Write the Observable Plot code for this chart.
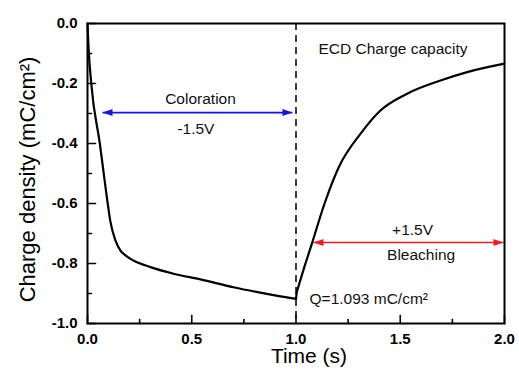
<!DOCTYPE html>
<html><head><meta charset="utf-8">
<script src="https://cdn.jsdelivr.net/npm/d3@7"></script>
<script src="https://cdn.jsdelivr.net/npm/@observablehq/plot@0.6"></script>
<style>body{margin:0;background:#fff;} #chart svg{font-family:'Liberation Sans', Arial, sans-serif;background:#fff;}</style>
</head><body><div id="chart"></div>
<script>
// Coloration phase (-1.5 V)
const colorTime   = [0, 0.005, 0.018, 0.059, 0.097, 0.109, 0.134, 0.158, 0.182, 0.22, 0.302, 0.413, 0.542, 0.70, 0.86, 1.0];
const colorCharge = [0, -0.08, -0.2, -0.4, -0.6, -0.657, -0.723, -0.757, -0.773, -0.79, -0.812, -0.834, -0.853, -0.879, -0.901, -0.918];
// Bleaching phase (+1.5 V)
const bleachTime   = [1.0, 1.004, 1.0086, 1.04, 1.077, 1.137, 1.205, 1.309, 1.405, 1.533, 1.693, 1.821, 2.0];
const bleachCharge = [-0.918, -0.895, -0.884, -0.812, -0.732, -0.60, -0.479, -0.368, -0.29, -0.234, -0.19, -0.162, -0.134];

const xTicks = [0, 0.5, 1.0, 1.5, 2.0];
const xMinor = [0.25, 0.75, 1.25, 1.75];
const yTicks = [0, -0.2, -0.4, -0.6, -0.8, -1.0];
const yMinor = [-0.1, -0.3, -0.5, -0.7, -0.9];
const switchTime = [1.0];

// Annotations
const annText   = ["ECD Charge capacity", "Coloration", "-1.5V", "+1.5V", "Bleaching", "Q=1.093 mC/cm²"];
const annX      = [1.108, 0.542, 0.52, 1.559, 1.60, 1.065];
const annY      = [-0.085, -0.253, -0.353, -0.69, -0.773, -0.917];
const annAnchor = ["start", "middle", "middle", "middle", "middle", "start"];

// Double-headed arrows
const arrowX1 = [0.072, 1.084];
const arrowX2 = [0.983, 1.995];
const arrowY  = [-0.297, -0.730];
const arrowColor = ["#1414e6", "#ee1c24"];

const headRight = {draw(ctx){ ctx.moveTo(0,0); ctx.lineTo(-10,-3.5); ctx.lineTo(-10,3.5); ctx.closePath(); }};
const headLeft  = {draw(ctx){ ctx.moveTo(0,0); ctx.lineTo(10,-3.5); ctx.lineTo(10,3.5); ctx.closePath(); }};
const tickShape = {draw(ctx, l){ ctx.moveTo(0,0); ctx.lineTo(0,-l); }};

const idxA = arrowX1.map((_, i) => i);
const idxT = annText.map((_, i) => i);
const fmt = d => d.toFixed(1);
const tk = {stroke: "#000", strokeWidth: 1.6, shape: tickShape, anchor: "start"};

const plot = Plot.plot({
  width: 519, height: 374,
  marginLeft: 87, marginRight: 15, marginTop: 23, marginBottom: 51,
  x: {domain: [0, 2]},
  y: {domain: [-1, 0]},
  marks: [
    Plot.ruleX(switchTime, {stroke: "#000", strokeWidth: 1.5, strokeDasharray: "7,5"}),
    Plot.link(idxA, {x1: arrowX1, x2: arrowX2, y1: arrowY, y2: arrowY, stroke: i => arrowColor[i], strokeWidth: 1.6}),
    Plot.dot(idxA, {x: arrowX1, y: arrowY, symbol: headLeft, fill: i => arrowColor[i], stroke: "none", r: 1}),
    Plot.dot(idxA, {x: arrowX2, y: arrowY, symbol: headRight, fill: i => arrowColor[i], stroke: "none", r: 1}),
    Plot.line(colorCharge, {x: colorTime, y: colorCharge, stroke: "#000", strokeWidth: 2.2, curve: "monotone-x"}),
    Plot.line(bleachCharge, {x: bleachTime, y: bleachCharge, stroke: "#000", strokeWidth: 2.2, curve: "monotone-x"}),
    Plot.text(idxT, {filter: i => annAnchor[i] === "start", x: annX, y: annY, text: annText, textAnchor: "start", fontSize: 15.5, fill: "#111"}),
    Plot.text(idxT, {filter: i => annAnchor[i] === "middle", x: annX, y: annY, text: annText, textAnchor: "middle", fontSize: 15.5, fill: "#111"}),
    Plot.vector(xTicks, {...tk, x: d => d, frameAnchor: "bottom", length: 8, rotate: 0}),
    Plot.vector(xMinor, {...tk, x: d => d, frameAnchor: "bottom", length: 4, rotate: 0}),
    Plot.vector(yTicks, {...tk, y: d => d, frameAnchor: "left", length: 8, rotate: 90}),
    Plot.vector(yMinor, {...tk, y: d => d, frameAnchor: "left", length: 4, rotate: 90}),
    Plot.axisX({ticks: xTicks, tickSize: 0, tickPadding: 10, tickFormat: fmt, fontSize: 15, fontWeight: "bold", label: null, fill: "#000"}),
    Plot.axisY({ticks: yTicks, tickSize: 0, tickPadding: 10, tickFormat: fmt, fontSize: 15, fontWeight: "bold", label: null, fill: "#000"}),
    Plot.text(["Time (s)"], {frameAnchor: "bottom", dx: 13, dy: 39, fontSize: 21, fill: "#000"}),
    Plot.text(["Charge density (mC/cm²)"], {frameAnchor: "left", textAnchor: "middle", rotate: -90, dx: -60, dy: 6, fontSize: 22, fill: "#000"}),
    Plot.frame({stroke: "#000", strokeWidth: 2})
  ]
});
document.getElementById("chart").appendChild(plot);
</script>
</body></html>
